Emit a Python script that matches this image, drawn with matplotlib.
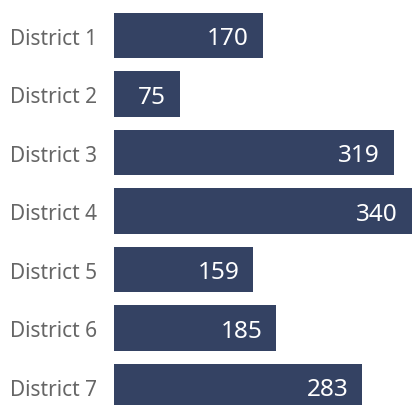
import matplotlib
matplotlib.use("Agg")
import matplotlib.pyplot as plt

districts = ["District 1", "District 2", "District 3", "District 4",
             "District 5", "District 6", "District 7"]
counts = [170, 75, 319, 340, 159, 185, 283]

bar_color = "#344263"
label_color = "#666666"

plt.rcParams['font.family'] = ['Noto Sans', 'DejaVu Sans']

fig = plt.figure(figsize=(4.12, 4.06), dpi=100)
ax = fig.add_axes([114 / 412, 0, 1 - 114 / 412, 1])

pos = list(range(len(districts)))
ax.barh(pos, counts, height=0.77, color=bar_color)

ax.set_xlim(0, 340)
ax.set_ylim(6.316, -0.624)

for y, v in zip(pos, counts):
    ax.annotate(str(v), xy=(v, y), xytext=(-10, -2), textcoords="offset points",
                ha="right", va="center", color="white", fontsize=17.5)

ax.set_yticks(pos)
ax.set_yticklabels(districts, fontsize=15, color=label_color)
ax.tick_params(axis="y", length=0, pad=12)
ax.set_xticks([])
for s in ax.spines.values():
    s.set_visible(False)

fig.savefig("out.png", dpi=100)
